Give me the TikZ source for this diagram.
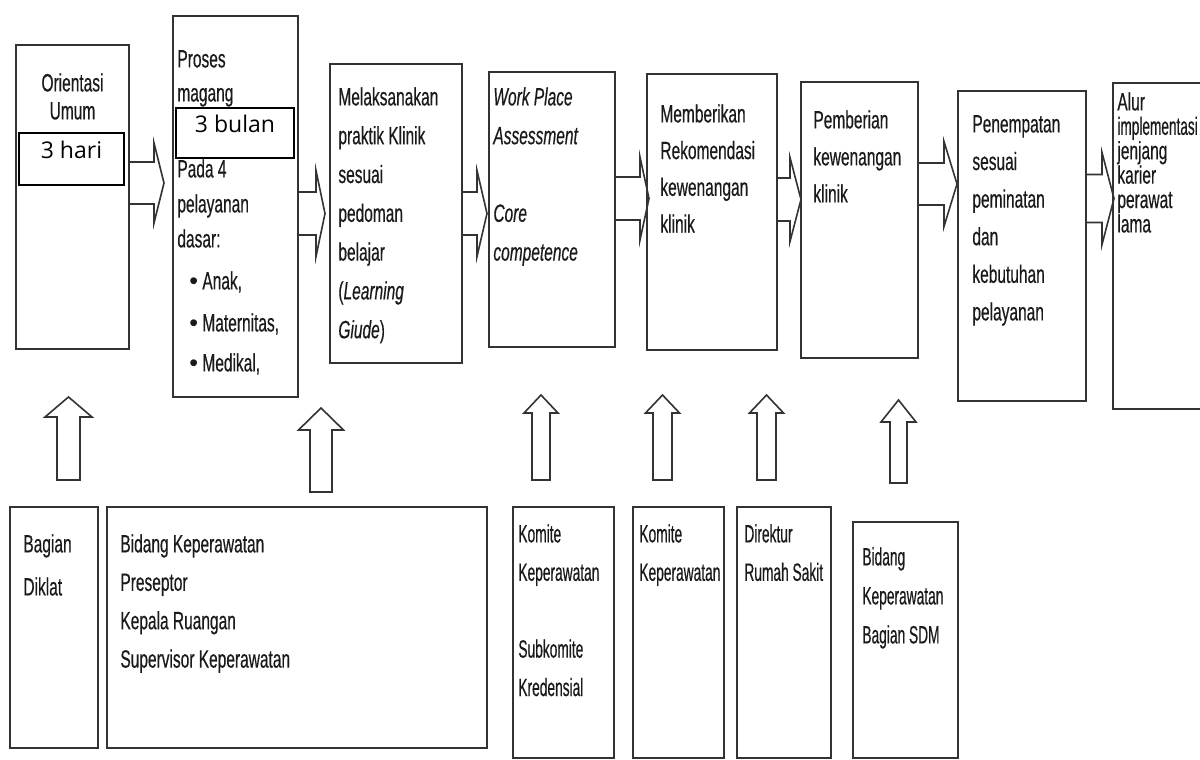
\documentclass[tikz,border=0pt]{standalone}
\usepackage{fontspec}
\setmainfont{Liberation Sans}[FakeStretch=0.62, FakeBold=0.4]
\newfontfamily\narrowfont{Liberation Sans}[FakeStretch=0.55, FakeBold=0.4]
\newfontfamily\labelfont{Open Sans}
\newfontfamily\bulletfont{Liberation Sans}
\usetikzlibrary{calc,fit}
\definecolor{ink}{HTML}{1A1A1A}
\definecolor{frame}{HTML}{333333}
\newcommand\txtsize[1]{\fontsize{12.5pt}{#1}\selectfont}
% fixed ascent for the first line of every text block
\newcommand\fst{\rule{0pt}{9.5pt}}
\newcommand\itembul{\makebox[12.5pt][l]{\hspace{6pt}{\bulletfont •}}}

\begin{document}
\begin{tikzpicture}[x=0.5pt,y=-0.5pt,
  box/.style={draw=frame, line width=1pt, inner sep=0pt},
  tag/.style={draw=black, line width=0.8pt, fill=white, inner sep=0pt,
    font=\labelfont\fontsize{11.5pt}{13pt}\selectfont},
  txt/.style={anchor=north west, inner sep=0pt, align=left, text=ink},
  % block arrow pointing right, open at its tail: shaft half, head half, head length
  harrow/.style n args={3}{draw=frame, line width=0.8pt, to path={
    ($(\tikztostart)+(0,#1)$) -- ($(\tikztotarget)+(-#3,#1)$)
    -- ($(\tikztotarget)+(-#3,#2)$) -- (\tikztotarget)
    -- ($(\tikztotarget)+(-#3,-#2)$) -- ($(\tikztotarget)+(-#3,-#1)$)
    -- ($(\tikztostart)+(0,-#1)$)}},
  % closed block arrow pointing up: shaft half, head half, head length
  varrow/.style n args={3}{draw=frame, line width=0.8pt, fill=white, to path={
    ($(\tikztostart)+(-#1,0)$) -- ($(\tikztotarget)+(-#1,#3)$)
    -- ($(\tikztotarget)+(-#2,#3)$) -- (\tikztotarget)
    -- ($(\tikztotarget)+(#2,#3)$) -- ($(\tikztotarget)+(#1,#3)$)
    -- ($(\tikztostart)+(#1,0)$) -- cycle}},
]
\useasboundingbox (0,0) rectangle (1200,760);
\clip (0,0) rectangle (1200,760);
\fill[white] (0,0) rectangle (1200,760);

% ---------- upper row: the stages ----------
\node[box, fit={(16,45) (129,349)}] (o1) {};
\node[box, fit={(173,16) (298,397)}] (o2) {};
\node[box, fit={(330,64) (462,363)}] (o3) {};
\node[box, fit={(489,72) (615,347)}] (o4) {};
\node[box, fit={(647,74) (777,350)}] (o5) {};
\node[box, fit={(801,82) (918,358)}] (o6) {};
\node[box, fit={(958,91) (1086,401)}] (o7) {};
\node[box, fit={(1113,83) (1230,409)}] (o8) {};

\node[txt, anchor=north, align=center, font=\txtsize{14pt}] (o1t) at (72.5,72)
  {\fst Orientasi\\Umum};
\node[txt, font=\txtsize{17.5pt}] (o2t) at (177,48)
  {\fst Proses\\[-0.5pt]magang\\[20.5pt]Pada 4\\pelayanan\\dasar:\\[3.5pt]
   \itembul Anak,\\[3.5pt]\itembul Maternitas,\\[2.5pt]\itembul Medikal,};
\node[txt, font=\txtsize{19.4pt}] (o3t) at (338,86)
  {\fst Melaksanakan\\praktik Klinik\\sesuai\\pedoman\\belajar\\(\textit{Learning}\\\textit{Giude})};
\node[txt, font=\txtsize{19.4pt}\itshape] (o4t) at (493,86)
  {\fst Work Place\\Assessment\\[19.4pt]Core\\competence};
\node[txt, font=\txtsize{18.35pt}] (o5t) at (660,103)
  {\fst Memberikan\\Rekomendasi\\kewenangan\\klinik};
\node[txt, font=\txtsize{18.5pt}] (o6t) at (813,109)
  {\fst Pemberian\\kewenangan\\klinik};
\node[txt, font=\txtsize{18.8pt}] (o7t) at (972,113)
  {\fst Penempatan\\sesuai\\peminatan\\dan\\kebutuhan\\pelayanan};
\node[txt, font=\txtsize{12.2pt}] (o8t) at (1117,91)
  {\fst Alur\\\scalebox{0.88}[1]{implementasi}\\jenjang\\karier\\perawat\\lama};

% duration tags
\node[tag, fit={(19,133) (124,185)}] (hari) {3 hari};
\node[tag, fit={(176,108) (294,158)}] (bulan) {3 bulan};

% ---------- lower row: the units in charge ----------
\node[box, fit={(10,507) (98,748)}] (b1) {};
\node[box, fit={(107,507) (487,748)}] (b2) {};
\node[box, fit={(513,507) (614,758)}] (b3) {};
\node[box, fit={(633,507) (724,758)}] (b4) {};
\node[box, fit={(737,507) (831,758)}] (b5) {};
\node[box, fit={(853,522) (958,758)}] (b6) {};

\node[txt, font=\txtsize{21.5pt}] (b1t) at (23,533) {\fst Bagian\\Diklat};
\node[txt, font=\txtsize{19.2pt}] (b2t) at (120,533)
  {\fst Bidang Keperawatan\\Preseptor\\Kepala Ruangan\\Supervisor Keperawatan};
\node[txt, font=\narrowfont\txtsize{19.2pt}] (b3t) at (518,523)
  {\fst Komite\\Keperawatan\\[19.2pt]Subkomite\\Kredensial};
\node[txt, font=\narrowfont\txtsize{19.2pt}] (b4t) at (639,523) {\fst Komite\\Keperawatan};
\node[txt, font=\narrowfont\txtsize{19.2pt}] (b5t) at (744,523) {\fst Direktur\\Rumah Sakit};
\node[txt, font=\narrowfont\txtsize{19.5pt}] (b6t) at (862,546)
  {\fst Bidang\\Keperawatan\\Bagian SDM};

% ---------- arrows between the stages ----------
\coordinate (l1) at (0,183);
\coordinate (l2) at (0,213.5);
\coordinate (l4) at (0,198.5);
\coordinate (l5) at (0,199.5);
\coordinate (l6) at (0,184);
\coordinate (l7) at (0,198.5);
\draw[harrow={21}{40}{10}]     (o1.east |- l1) to ($(o2.west |- l1)+(-8,0)$);
\draw[harrow={21.5}{43}{9}]    (o2.east |- l2) to ($(o3.west |- l2)+(-4,0)$);
\draw[harrow={21.5}{43}{10}]   (o3.east |- l2) to ($(o4.west |- l2)+(-1,0)$);
\draw[harrow={21.5}{41.5}{9}]  (o4.east |- l4) to ($(o5.west |- l4)+(3,0)$);
\draw[harrow={21.5}{42}{11}]   (o5.east |- l5) to ($(o6.west |- l5)+(1,0)$);
\draw[harrow={21}{42.5}{13}]   (o6.east |- l6) to (o7.west |- l6);
\draw[harrow={24}{46}{12}]     (o7.east |- l7) to ($(o8.west |- l7)+(2,0)$);

% ---------- arrows from the units up to the stages ----------
\coordinate (v1a) at (68.5,480);  \coordinate (v1b) at (68.5,397);
\coordinate (v2a) at (321,492);   \coordinate (v2b) at (321,408);
\coordinate (v3a) at (541,480);   \coordinate (v3b) at (541,395);
\coordinate (v4a) at (662.5,480); \coordinate (v4b) at (662.5,395);
\coordinate (v5a) at (766.5,480); \coordinate (v5b) at (766.5,395);
\coordinate (v6a) at (898.5,483); \coordinate (v6b) at (898.5,400);
\draw[varrow={11.5}{23.5}{20}] (v1a) to (v1b);
\draw[varrow={11}{22.5}{22}]   (v2a) to (v2b);
\draw[varrow={9}{17}{18}]      (v3a) to (v3b);
\draw[varrow={9.5}{17}{18}]    (v4a) to (v4b);
\draw[varrow={9.5}{17}{18}]    (v5a) to (v5b);
\draw[varrow={8.5}{17.5}{22}]  (v6a) to (v6b);
\end{tikzpicture}
\end{document}
